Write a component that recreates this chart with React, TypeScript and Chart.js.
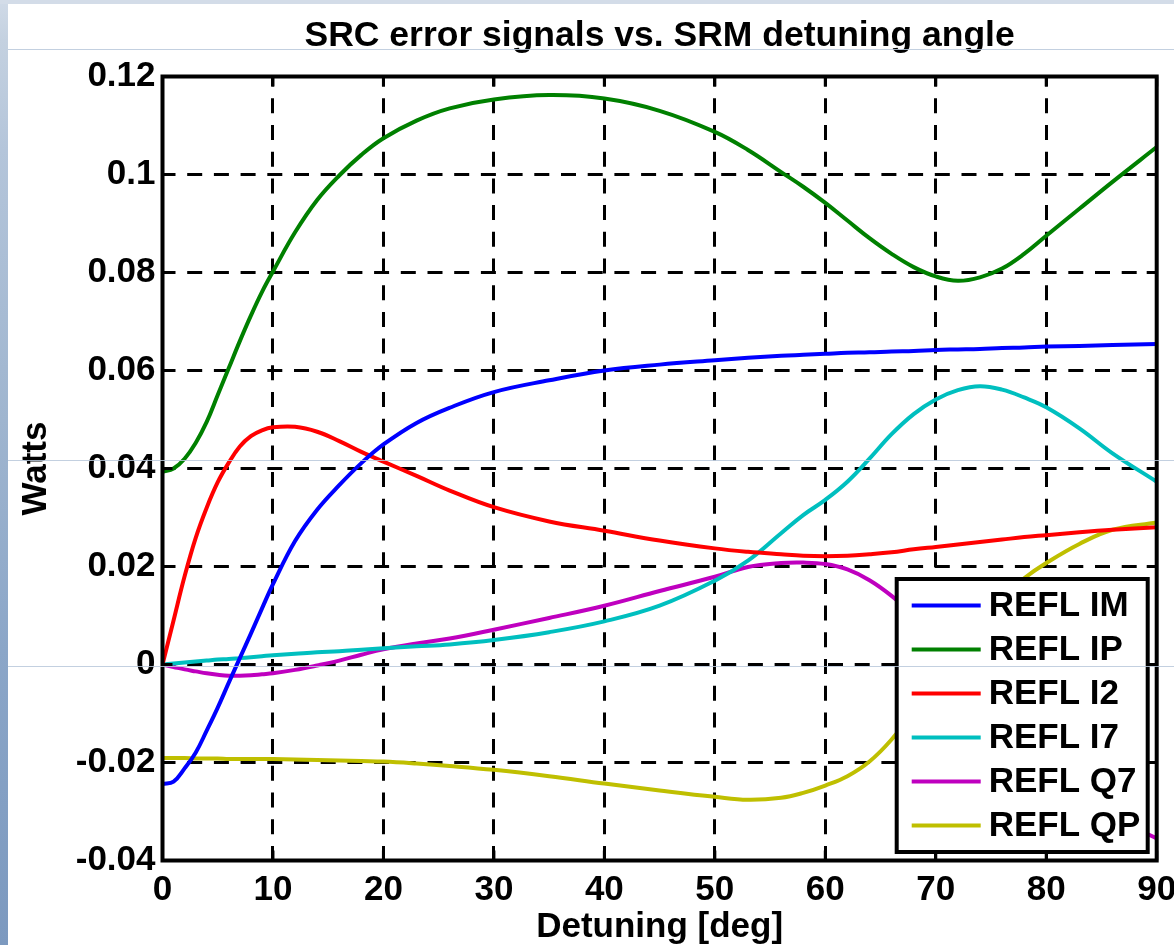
import React, { useEffect, useRef } from 'react';
import { Chart, registerables } from 'chart.js';

Chart.register(...registerables);

const TITLE = 'SRC error signals vs. SRM detuning angle';
const X_TITLE = 'Detuning [deg]';
const Y_TITLE = 'Watts';

const X_TICKS = [0, 10, 20, 30, 40, 50, 60, 70, 80, 90];
const Y_TICKS = [-0.04, -0.02, 0, 0.02, 0.04, 0.06, 0.08, 0.1, 0.12];

const DEG = [0, 1, 2, 3, 4, 5, 6, 7, 8, 9, 10, 12, 14, 16, 18, 20, 23, 26, 30, 35, 40, 45, 50, 53, 56, 58, 60, 62, 64, 66, 68, 70, 72, 74, 76, 78, 80, 83, 86, 90];

const REFL_IM = [-0.0244, -0.0239, -0.0212, -0.0180, -0.0135, -0.0088, -0.0037, 0.0013, 0.0063, 0.0114, 0.0164, 0.0252, 0.0316, 0.0366, 0.0411, 0.0449, 0.0493, 0.0524, 0.0556, 0.0580, 0.0600, 0.0612, 0.0621, 0.0626, 0.0630, 0.0632, 0.0634, 0.0636, 0.0637, 0.0639, 0.0640, 0.0642, 0.0643, 0.0644, 0.0646, 0.0647, 0.0649, 0.0650, 0.0652, 0.0654];
const REFL_IP = [0.0393, 0.0400, 0.0420, 0.0452, 0.0495, 0.0550, 0.0605, 0.0660, 0.0712, 0.0760, 0.0802, 0.0882, 0.0948, 0.0998, 0.1040, 0.1074, 0.1110, 0.1135, 0.1153, 0.1162, 0.1155, 0.1130, 0.1087, 0.1050, 0.1005, 0.0975, 0.0942, 0.0906, 0.0870, 0.0838, 0.0811, 0.0792, 0.0783, 0.0790, 0.0808, 0.0838, 0.0875, 0.0930, 0.0985, 0.1056];
const REFL_I2 = [0.0, 0.0090, 0.0180, 0.0258, 0.0320, 0.0372, 0.0412, 0.0445, 0.0466, 0.0478, 0.0484, 0.0485, 0.0475, 0.0456, 0.0434, 0.0414, 0.0385, 0.0355, 0.0321, 0.0292, 0.0273, 0.0253, 0.0237, 0.0230, 0.0225, 0.0222, 0.0221, 0.0222, 0.0225, 0.0229, 0.0235, 0.0240, 0.0245, 0.0250, 0.0255, 0.0260, 0.0264, 0.0270, 0.0275, 0.0280];
const REFL_I7 = [0.0, 0.0002, 0.0004, 0.0006, 0.0008, 0.0010, 0.0011, 0.0013, 0.0015, 0.0017, 0.0019, 0.0022, 0.0025, 0.0027, 0.0030, 0.0033, 0.0037, 0.0041, 0.0050, 0.0066, 0.0088, 0.0120, 0.0171, 0.0212, 0.0268, 0.0305, 0.0336, 0.0373, 0.0420, 0.0470, 0.0511, 0.0541, 0.0560, 0.0568, 0.0561, 0.0545, 0.0525, 0.0482, 0.0431, 0.0373];
const REFL_Q7 = [0.0, -0.0005, -0.0010, -0.0014, -0.0018, -0.0021, -0.0023, -0.0023, -0.0022, -0.0020, -0.0018, -0.0011, -0.0002, 0.0008, 0.0020, 0.0031, 0.0043, 0.0053, 0.0071, 0.0095, 0.0120, 0.0150, 0.0179, 0.0199, 0.0207, 0.0208, 0.0205, 0.0194, 0.0172, 0.0140, 0.0100, 0.0055, 0.0005, -0.0045, -0.0095, -0.0145, -0.0190, -0.0255, -0.0310, -0.0355];
const REFL_QP = [-0.0191, -0.0191, -0.0191, -0.0192, -0.0192, -0.0192, -0.0193, -0.0193, -0.0193, -0.0193, -0.0193, -0.0194, -0.0195, -0.0196, -0.0197, -0.0198, -0.0202, -0.0207, -0.0215, -0.0228, -0.0243, -0.0257, -0.0270, -0.0276, -0.0272, -0.0262, -0.0247, -0.0228, -0.0198, -0.0153, -0.0095, -0.0035, 0.0030, 0.0090, 0.0137, 0.0176, 0.0207, 0.0246, 0.0275, 0.0290];

const SERIES_LABELS = ['REFL IM', 'REFL IP', 'REFL I2', 'REFL I7', 'REFL Q7', 'REFL QP'];
const SERIES_VALUES = [REFL_IM, REFL_IP, REFL_I2, REFL_I7, REFL_Q7, REFL_QP];
const SERIES_COLORS = ['#0000ff', '#008000', '#ff0000', '#00bfbf', '#bf00bf', '#bfbf00'];

const FONT = "'Liberation Sans', Arial, Helvetica, sans-serif";

function fmtY(v: number): string {
  return String(Number(v.toFixed(2)));
}

export default function App() {
  const ref = useRef<HTMLCanvasElement>(null);

  useEffect(() => {
    const canvas = ref.current;
    if (!canvas) return;

    const boxPlugin = {
      id: 'matlabBox',
      afterDatasetsDraw(chart: any) {
        const { ctx, chartArea: a, scales } = chart;
        ctx.save();
        ctx.strokeStyle = '#000';
        ctx.lineWidth = 3;
        ctx.setLineDash([]);
        const tl = 10;
        X_TICKS.forEach((v) => {
          const x = scales.x.getPixelForValue(v);
          ctx.beginPath();
          ctx.moveTo(x, a.bottom);
          ctx.lineTo(x, a.bottom - tl);
          ctx.moveTo(x, a.top);
          ctx.lineTo(x, a.top + tl);
          ctx.stroke();
        });
        Y_TICKS.forEach((v) => {
          const y = scales.y.getPixelForValue(v);
          ctx.beginPath();
          ctx.moveTo(a.left, y);
          ctx.lineTo(a.left + tl, y);
          ctx.moveTo(a.right, y);
          ctx.lineTo(a.right - tl, y);
          ctx.stroke();
        });
        ctx.lineWidth = 4;
        ctx.strokeRect(a.left, a.top, a.right - a.left, a.bottom - a.top);

        // legend inside the plot, bottom right
        const lw = 251;
        const lh = 273;
        const lx = a.right - 9 - lw;
        const ly = a.bottom - 8.5 - lh;
        ctx.fillStyle = '#ffffff';
        ctx.fillRect(lx, ly, lw, lh);
        ctx.lineWidth = 4;
        ctx.strokeStyle = '#000';
        ctx.strokeRect(lx, ly, lw, lh);
        ctx.font = `bold 35px ${FONT}`;
        ctx.textBaseline = 'middle';
        ctx.textAlign = 'left';
        chart.data.datasets.forEach((ds: any, i: number) => {
          const cy = ly + 26.5 + i * 44;
          ctx.strokeStyle = ds.borderColor;
          ctx.lineWidth = 4;
          ctx.beginPath();
          ctx.moveTo(lx + 15, cy);
          ctx.lineTo(lx + 84, cy);
          ctx.stroke();
          ctx.fillStyle = '#000';
          ctx.fillText(ds.label, lx + 92, cy + 1);
        });
        ctx.restore();
      },
    };

    const tickFont = { family: FONT, size: 35, weight: 'bold' as const, lineHeight: 1 };

    const chart = new Chart(canvas, {
      type: 'line',
      data: {
        datasets: SERIES_LABELS.map((label, i) => ({
          label,
          data: DEG.map((d, j) => ({ x: d, y: SERIES_VALUES[i][j] })),
          borderColor: SERIES_COLORS[i],
          backgroundColor: SERIES_COLORS[i],
          borderWidth: 4,
          pointRadius: 0,
          fill: false,
          tension: 0.4,
        })),
      },
      options: {
        responsive: false,
        animation: false,
        devicePixelRatio: 1,
        layout: { padding: { left: 0, right: 17.3, top: 0, bottom: 0 } },
        plugins: {
          legend: { display: false },
          tooltip: { enabled: false },
          title: {
            display: true,
            text: TITLE,
            color: '#000',
            font: { family: FONT, size: 35.5, weight: 'bold', lineHeight: 1 },
            padding: { top: 18, bottom: 23 },
            fullSize: false,
          },
        },
        scales: {
          x: {
            type: 'linear',
            min: 0,
            max: 90,
            afterBuildTicks: (s: any) => {
              s.ticks = X_TICKS.map((v) => ({ value: v }));
            },
            afterFit: (s: any) => {
              s.height = 84.5;
              s.paddingLeft = 0;
              s.paddingRight = 0;
            },
            ticks: {
              color: '#000',
              font: tickFont,
              padding: 12,
              maxRotation: 0,
              autoSkip: false,
              callback: (v: any) => String(v),
            },
            grid: { color: '#000', lineWidth: 3, drawTicks: false },
            border: { display: false, dash: [15, 11.7], dashOffset: 4.9 },
            title: {
              display: true,
              text: X_TITLE,
              color: '#000',
              font: { family: FONT, size: 35, weight: 'bold', lineHeight: 1 },
              padding: { top: 0, bottom: 0 },
            },
          },
          y: {
            type: 'linear',
            min: -0.04,
            max: 0.12,
            afterBuildTicks: (s: any) => {
              s.ticks = Y_TICKS.map((v) => ({ value: v }));
            },
            afterFit: (s: any) => {
              s.width = 162.5;
              s.paddingTop = 0;
              s.paddingBottom = 0;
            },
            ticks: {
              color: '#000',
              font: tickFont,
              padding: 7,
              autoSkip: false,
              callback: (v: any) => fmtY(Number(v)),
            },
            grid: { color: '#000', lineWidth: 3, drawTicks: false },
            border: { display: false, dash: [15, 11.7], dashOffset: 2.5 },
            title: {
              display: true,
              text: Y_TITLE,
              color: '#000',
              font: { family: FONT, size: 35, weight: 'bold', lineHeight: 1 },
              padding: { top: 18.5, bottom: 0 },
            },
          },
        },
      },
      plugins: [boxPlugin],
    });

    return () => chart.destroy();
  }, []);

  const slideLine = (top: number) => (
    <div
      style={{
        position: 'absolute',
        left: 8,
        top,
        width: 1166,
        height: 1,
        background: 'rgba(185, 200, 218, 0.85)',
        pointerEvents: 'none',
      }}
    />
  );

  return (
    <div
      style={{
        position: 'absolute',
        left: 0,
        top: 0,
        width: 1174,
        height: 945,
        background: '#ffffff',
        overflow: 'hidden',
      }}
    >
      <div
        style={{
          position: 'absolute',
          left: 0,
          top: 0,
          width: 8,
          height: 945,
          background: 'linear-gradient(to bottom, #d0dae7 0px, #c4d1e0 40px, #b4c5da 150px, #9fb5cf 420px, #8ba6c8 650px, #7c99bf 945px)',
        }}
      />
      <div
        style={{
          position: 'absolute',
          left: 0,
          top: 0,
          width: 1174,
          height: 4,
          background: '#d3dce8',
        }}
      />
      <canvas
        ref={ref}
        width={1174}
        height={945}
        style={{ position: 'absolute', left: 0, top: 0, width: 1174, height: 945 }}
      />
      {slideLine(49)}
      {slideLine(460)}
      {slideLine(666)}
    </div>
  );
}
